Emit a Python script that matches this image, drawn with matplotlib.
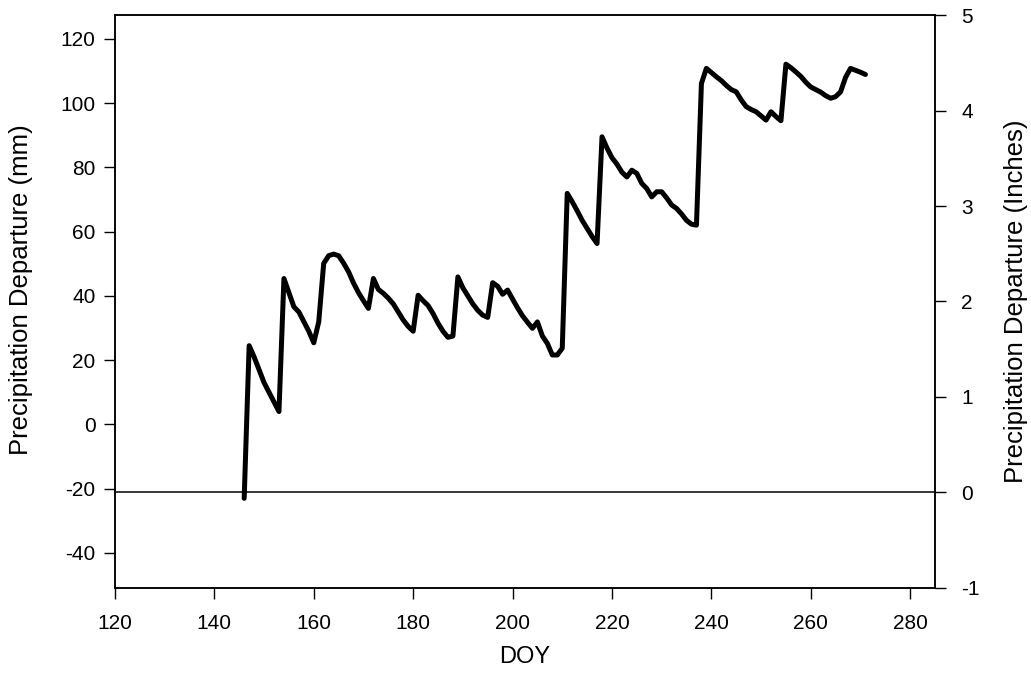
import matplotlib
matplotlib.use("Agg")
import matplotlib.pyplot as plt

plt.rcParams['font.family'] = ['Liberation Sans', 'DejaVu Sans']
plt.rcParams['axes.unicode_minus'] = False

# Daily precipitation departure (mm) by day of year
doy = list(range(146, 272))
departure_mm = [
    -23, 24.5, 21, 17, 13, 10, 7, 4, 45.4, 41,                      # 146-155
    36.6, 35, 32, 29, 25.4, 31.9, 50.1, 52.5, 53, 52.5,             # 156-165
    50.2, 47.5, 44, 41, 38.5, 36.1, 45.4, 42, 40.8, 39.3,           # 166-175
    37.5, 35, 32.5, 30.5, 29, 40.2, 38.5, 37, 34.5, 31.5,           # 176-185
    29, 27.1, 27.5, 45.9, 42.5, 40, 37.5, 35.5, 34, 33.3,           # 186-195
    44.1, 43, 40.5, 41.8, 39, 36.3, 33.8, 31.8, 29.9, 31.9,         # 196-205
    27.5, 25.2, 21.6, 21.6, 23.7, 71.9, 69.3, 66.5, 63.5, 61,       # 206-215
    58.5, 56.3, 89.5, 86, 83, 81, 78.5, 77, 79.1, 78.1,             # 216-225
    75, 73.4, 70.8, 72.4, 72.4, 70.5, 68.3, 67.2, 65.5, 63.5,       # 226-235
    62.3, 62, 106.1, 110.8, 109.5, 108.2, 107, 105.5, 104.2, 103.5, # 236-245
    101, 98.9, 98, 97.3, 96, 94.7, 97.3, 95.8, 94.5, 112.1,         # 246-255
    111, 109.7, 108.3, 106.5, 105, 104.2, 103.4, 102.3, 101.5, 102, # 256-265
    103.5, 108, 110.8, 110.2, 109.6, 108.9,                         # 266-271
]

fig = plt.figure(figsize=(10.31, 6.86), dpi=100)
ax = fig.add_axes([0.1115, 0.1429, 0.7954, 0.8352])
ax2 = ax.twinx()

ax.plot(doy, departure_mm, color='black', linewidth=3.6, solid_capstyle='round',
        solid_joinstyle='round', zorder=3)
ax2.axhline(0, color='black', linewidth=1.1)

ax.set_xlim(120, 285)
ax.set_ylim(-50.9, 127.4)
ax2.set_ylim(-1, 5)

ax.set_xticks(range(120, 281, 20))
ax.set_yticks(range(-40, 121, 20))
ax2.set_yticks(range(-1, 6))

ax.set_xlabel('DOY', fontsize=17, labelpad=9)
ax.set_ylabel('Precipitation Departure (mm)', fontsize=18.5)
ax2.set_ylabel('Precipitation Departure (Inches)', fontsize=18.5, labelpad=17)
ax.yaxis.set_label_coords(-0.1, 0.52)

ax.tick_params(axis='both', direction='out', length=8, width=1, labelsize=15, pad=6)
ax.tick_params(axis='x', pad=11)
ax2.tick_params(axis='y', direction='out', length=8, width=1, labelsize=15, pad=11)

for a in (ax, ax2):
    for s in a.spines.values():
        s.set_linewidth(1.1)

fig.savefig('out.png', dpi=100)
